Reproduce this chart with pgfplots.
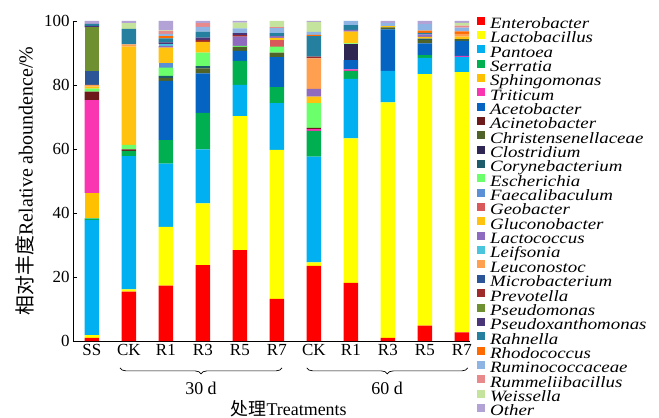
\documentclass[border=0pt]{standalone}
\usepackage{fontspec}
\setmainfont{Liberation Serif}
\newfontfamily\cjk{Noto Sans CJK SC}
\newfontfamily\legfont{Liberation Serif}[FakeStretch=1.2]
\usepackage{pgfplots}
\pgfplotsset{compat=1.18}
\usepackage{pgfplotstable}
\usetikzlibrary{decorations.pathreplacing}

\definecolor{cEnt}{HTML}{FF0000}
\definecolor{cLac}{HTML}{FFFF00}
\definecolor{cPan}{HTML}{00B0F0}
\definecolor{cSer}{HTML}{00B050}
\definecolor{cSph}{HTML}{FFC000}
\definecolor{cTri}{HTML}{FA35B2}
\definecolor{cAce}{HTML}{0563C1}
\definecolor{cAcin}{HTML}{6E1A1A}
\definecolor{cChr}{HTML}{4F6228}
\definecolor{cClo}{HTML}{302654}
\definecolor{cCor}{HTML}{1D5B6B}
\definecolor{cEsc}{HTML}{6BFF6B}
\definecolor{cFae}{HTML}{5B8FD6}
\definecolor{cGeo}{HTML}{D9595B}
\definecolor{cGlu}{HTML}{FFC20E}
\definecolor{cLcc}{HTML}{8E6BBE}
\definecolor{cLei}{HTML}{4BC4DE}
\definecolor{cLeu}{HTML}{FFA050}
\definecolor{cMic}{HTML}{2B5597}
\definecolor{cPre}{HTML}{9E2A2A}
\definecolor{cPsm}{HTML}{6E9030}
\definecolor{cPsx}{HTML}{4A3578}
\definecolor{cRah}{HTML}{2580A0}
\definecolor{cRho}{HTML}{FF6A00}
\definecolor{cRum}{HTML}{8DB4E2}
\definecolor{cRmm}{HTML}{E88A8C}
\definecolor{cWei}{HTML}{C4E39C}
\definecolor{cOth}{HTML}{B3A2D6}

\pgfplotstableread{
x  Ent   Lac   Pan  Ser  Sph Tri Ace   Acin Chr Clo Cor Esc  Fae Geo Glu   Lcc Lei Leu Mic Pre Psm  Psx Rah Rho Rum Rmm Wei Oth
0  1.0   0.8   36.0 0.5  8.0 29.0 0    2.6  0   0   0   1.0  0   0   0.6   0   0   0.5 4.4 0   13.6 0.5 0.6 0   0   0   0   0.9
1  15.4  0.7   41.7 1.6  0   0    0    0.5  0   0   0   1.35 0   0   30.75 0   0   0.7 0   0   0    0   4.8 0   0   0   1.8 0.7
2  17.3  18.4  19.7 7.4  0   0    18.45 0   0.9 0   0.7 2.55 1.4 0   4.9   0.5 0.6 0   0   0   0    0.5 1.3 0.7 0.7 0.9 0.2 2.9
3  23.75 19.25 16.9 11.4 0   0    12.3 0    1.6 0   0.7 4.2  0   0   3.4   0   0   0   0   0.6 0    0.7 1.9 0   1.5 1.1 0   0.7
4  28.4  41.9  9.7  7.5  0   0    3.2  0    1.2 0   0   0.3  0   0   0     2.9 0   0   0   0.5 0    0.6 0   0   1.5 0   1.8 0.5
5  13.2  46.5  14.6 5.0  0   0    9.4  0    1.4 0   0   1.9  0   2.0 0.7   0.6 0   0   0   0   0    0   0.9 0   1.6 0.3 1.9 0
6  23.5  1.1   33.0 8.1  0   0.5  0    0.4  0   0   0   7.7  0   0   2.1   2.4 0   9.5 0   0.6 0    0   6.4 0.4 0.9 0   3.1 0.3
7  18.2  45.1  18.6 2.5  0   0.5  2.9  0    0   4.9 0   0.3  0   0   3.7   0.5 0   0   0   0   0    0   1.5 0   1.3 0   0   0
8  1.0   73.6  9.8  0    0   0    13.0 0    0.6 0   0   0    0   0   0.4   0   0   0   0   0   0    0   0   0   1.0 0   0   0.6
9  4.8   78.6  5.1  0.8  0   0    3.7  0    1.0 0   0.5 0    0   0   0.5   0.8 0   0   0   0   0    0   0.5 0.7 2.0 0   0   1.0
10 2.7   81.3  4.8  0    0   0.3  4.65 0    0.6 0   0   0    0   0   0.8   0   0   0.8 0   0   0    0   0   0.8 1.2 0.6 0.9 0.55
}\data

\begin{document}
\begin{tikzpicture}
\begin{axis}[
  scale only axis, width=397bp, height=320bp,
  at={(0,0)}, anchor=south west,
  ybar stacked, bar width=0.39,
  xmin=-0.51, xmax=10.22, ymin=0, ymax=100,
  axis x line*=bottom, axis y line*=left,
  axis line style={-, line width=0.8pt},
  xtick={0,...,10},
  xticklabels={SS,CK,R1,R3,R5,R7,CK,R1,R3,R5,R7},
  x tick style={draw=none},
  ytick={0,20,...,100},
  tick align=inside, major tick length=4bp,
  y tick style={line width=0.8pt, black},
  /pgf/number format/assume math mode=true,
  ticklabel style={font=\fontsize{17}{17}\selectfont},
  ylabel={{\cjk 相对丰度}Relative aboundence/\%},
  ylabel style={font=\fontsize{20}{20}\selectfont, at={(axis description cs:0,0.5)}, yshift=48bp, anchor=center},
  clip=false,
  every axis plot post/.append style={legend image code/.code={\fill[##1] (0bp,0.6bp) rectangle (8bp,8.6bp);}},
  legend style={draw=none, fill=none, at={(1,1)}, anchor=north west, xshift=7bp, yshift=4.7bp,
    inner sep=0pt, row sep=-0.8bp, column sep=5bp,
    font=\legfont\itshape\fontsize{15.8}{14.4}\selectfont,
    nodes={inner sep=0pt, text height=9.8bp, text depth=3.3bp}},
  legend cell align=left,
]
\addplot[fill=cEnt, draw=none] table[x=x,y=Ent]{\data}; \addlegendentry{Enterobacter}
\addplot[fill=cLac, draw=none] table[x=x,y=Lac]{\data}; \addlegendentry{Lactobacillus}
\addplot[fill=cPan, draw=none] table[x=x,y=Pan]{\data}; \addlegendentry{Pantoea}
\addplot[fill=cSer, draw=none] table[x=x,y=Ser]{\data}; \addlegendentry{Serratia}
\addplot[fill=cSph, draw=none] table[x=x,y=Sph]{\data}; \addlegendentry{Sphingomonas}
\addplot[fill=cTri, draw=none] table[x=x,y=Tri]{\data}; \addlegendentry{Triticum}
\addplot[fill=cAce, draw=none] table[x=x,y=Ace]{\data}; \addlegendentry{Acetobacter}
\addplot[fill=cAcin, draw=none] table[x=x,y=Acin]{\data}; \addlegendentry{Acinetobacter}
\addplot[fill=cChr, draw=none] table[x=x,y=Chr]{\data}; \addlegendentry{Christensenellaceae}
\addplot[fill=cClo, draw=none] table[x=x,y=Clo]{\data}; \addlegendentry{Clostridium}
\addplot[fill=cCor, draw=none] table[x=x,y=Cor]{\data}; \addlegendentry{Corynebacterium}
\addplot[fill=cEsc, draw=none] table[x=x,y=Esc]{\data}; \addlegendentry{Escherichia}
\addplot[fill=cFae, draw=none] table[x=x,y=Fae]{\data}; \addlegendentry{Faecalibaculum}
\addplot[fill=cGeo, draw=none] table[x=x,y=Geo]{\data}; \addlegendentry{Geobacter}
\addplot[fill=cGlu, draw=none] table[x=x,y=Glu]{\data}; \addlegendentry{Gluconobacter}
\addplot[fill=cLcc, draw=none] table[x=x,y=Lcc]{\data}; \addlegendentry{Lactococcus}
\addplot[fill=cLei, draw=none] table[x=x,y=Lei]{\data}; \addlegendentry{Leifsonia}
\addplot[fill=cLeu, draw=none] table[x=x,y=Leu]{\data}; \addlegendentry{Leuconostoc}
\addplot[fill=cMic, draw=none] table[x=x,y=Mic]{\data}; \addlegendentry{Microbacterium}
\addplot[fill=cPre, draw=none] table[x=x,y=Pre]{\data}; \addlegendentry{Prevotella}
\addplot[fill=cPsm, draw=none] table[x=x,y=Psm]{\data}; \addlegendentry{Pseudomonas}
\addplot[fill=cPsx, draw=none] table[x=x,y=Psx]{\data}; \addlegendentry{Pseudoxanthomonas}
\addplot[fill=cRah, draw=none] table[x=x,y=Rah]{\data}; \addlegendentry{Rahnella}
\addplot[fill=cRho, draw=none] table[x=x,y=Rho]{\data}; \addlegendentry{Rhodococcus}
\addplot[fill=cRum, draw=none] table[x=x,y=Rum]{\data}; \addlegendentry{Ruminococcaceae}
\addplot[fill=cRmm, draw=none] table[x=x,y=Rmm]{\data}; \addlegendentry{Rummeliibacillus}
\addplot[fill=cWei, draw=none] table[x=x,y=Wei]{\data}; \addlegendentry{Weissella}
\addplot[fill=cOth, draw=none] table[x=x,y=Oth]{\data}; \addlegendentry{Other}

\draw[line width=0.7pt, decorate, decoration={brace, mirror, amplitude=6bp}]
  (axis cs:0.76,-8.4) -- (axis cs:5.14,-8.4);
\draw[line width=0.7pt, decorate, decoration={brace, mirror, amplitude=6bp}]
  (axis cs:5.81,-8.4) -- (axis cs:10.16,-8.4);
\node[font=\fontsize{18}{18}\selectfont] at (axis cs:2.95,-14.7) {30 d};
\node[font=\fontsize{18}{18}\selectfont] at (axis cs:7.98,-14.7) {60 d};
\node[font=\fontsize{18}{18}\selectfont] at (axis cs:5.32,-21.2) {{\cjk 处理}Treatments};
\end{axis}
\pgfresetboundingbox
\useasboundingbox (-73bp,-77bp) rectangle (586bp,341bp);
\end{tikzpicture}
\end{document}
